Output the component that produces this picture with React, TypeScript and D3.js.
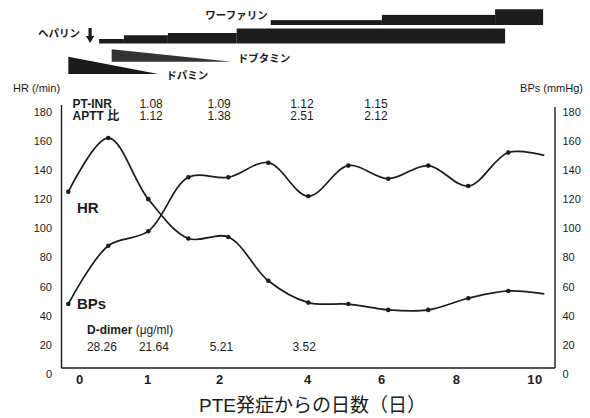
import * as d3 from 'd3';

const W = 590;
const H = 418;

// measurements are evenly spaced along the chart ("slot" units)
const sampleSlots = [0, 1, 2, 3, 4, 5, 6, 7, 8, 9, 10, 11, 11.9];
const hrValues = [125, 162, 120, 93, 94, 64, 49, 48, 44, 44, 52, 57, 55];
const bpsValues = [48, 88, 98, 135, 135, 145, 122, 143, 134, 143, 129, 152, 150];
const hasMarker = [true, true, true, true, true, true, true, true, true, true, true, true, false];

const yTicks = [0, 20, 40, 60, 80, 100, 120, 140, 160, 180];
const xTickLabels = ['0', '1', '2', '4', '6', '8', '10'];
const xTickSlots = [0.29, 1.99, 3.79, 5.99, 7.84, 9.71, 11.67];

const ptInr = ['1.08', '1.09', '1.12', '1.15'];
const apttRatio = ['1.12', '1.38', '2.51', '2.12'];
const labSlots = [2.07, 3.77, 5.84, 7.69];
const dDimer = ['28.26', '21.64', '5.21', '3.52'];
const dDimerSlots = [0.84, 2.14, 3.83, 5.9];

// drug schedule (relative dose levels)
const heparinFrom = [0.77, 1.39, 2.49, 4.21];
const heparinTo = [1.39, 2.49, 4.21, 10.92];
const heparinDose = [1.2, 2.2, 2.8, 4];
const warfarinFrom = [5.06, 7.84, 10.67];
const warfarinTo = [7.84, 10.67, 11.87];
const warfarinDose = [1.3, 2.7, 4.2];
const dopamineSlots = [0, 2.25];
const dopamineDose = [4.6, 0];
const dobutamineSlots = [1.085, 4.085];
const dobutamineDose = [3.3, 0];

const sans = "'Liberation Sans', Arial, 'Noto Sans CJK JP', sans-serif";
const jp = "'Noto Sans CJK JP', sans-serif";
const ink = '#1c1c1c';

const frame = { left: 61.5, right: 555, top: 105, bottom: 368 };

export default function App() {
  const x = d3.scaleLinear().domain([0, 12]).range([68.3, 548.3]);
  const y = d3.scaleLinear().domain([0, 180]).range([374, 111.7]);
  const doseH = d3.scaleLinear().domain([0, 4]).range([0, 15]);

  const line = d3
    .line<number>()
    .x((_, i) => x(sampleSlots[i]))
    .y(d => y(d))
    .curve(d3.curveCatmullRom.alpha(0.5));

  const wedge = (slots: number[], dose: number[], base: number) =>
    d3
      .area<number>()
      .x((_, i) => x(slots[i]))
      .y0(base)
      .y1((d) => base - doseH(d))(dose) || '';

  const heparinBase = 43.5;
  const warfarinBase = 25;
  const dobutamineBase = 61.7;
  const dopamineBase = 74;
  const arrowX = x(0.545);

  return (
    <svg
      width={W}
      height={H}
      style={{ position: 'fixed', left: 0, top: 0, background: '#fff' }}
      fontFamily={sans}
    >
      {/* drug schedule */}
      <g fill={ink}>
        {warfarinFrom.map((f, i) => (
          <rect
            key={'w' + i}
            x={x(f)}
            width={x(warfarinTo[i]) - x(f)}
            y={warfarinBase - doseH(warfarinDose[i])}
            height={doseH(warfarinDose[i])}
          />
        ))}
        {heparinFrom.map((f, i) => (
          <rect
            key={'h' + i}
            x={x(f)}
            width={x(heparinTo[i]) - x(f)}
            y={heparinBase - doseH(heparinDose[i])}
            height={doseH(heparinDose[i])}
          />
        ))}
        <path d={wedge(dobutamineSlots, dobutamineDose, dobutamineBase)} fill="#333" />
        <path d={wedge(dopamineSlots, dopamineDose, dopamineBase)} fill="#1a1a1a" />
        <path
          d={`M${arrowX - 1.6},28 h3.2 v8 h2.6 l-4.2,7 l-4.2,-7 h2.6 z`}
        />
      </g>
      <g fontFamily={jp} fontWeight={700} fontSize={10.5} fill={ink}>
        <text x={x(warfarinFrom[0]) - 3} y={19} textAnchor="end">ワーファリン</text>
        <text x={80} y={37} textAnchor="end">ヘパリン</text>
        <text x={x(dobutamineSlots[1]) + 6} y={62}>ドブタミン</text>
        <text x={x(dopamineSlots[1]) + 8} y={79}>ドパミン</text>
      </g>

      {/* frame */}
      <g stroke={ink} strokeWidth={1.4} fill="none">
        <line x1={frame.left} x2={frame.left} y1={frame.top} y2={frame.bottom} />
        <line x1={frame.right} x2={frame.right} y1={frame.top + 2} y2={frame.bottom} />
        <line x1={frame.left} x2={frame.right} y1={frame.bottom} y2={frame.bottom} />
      </g>

      {/* axis titles */}
      <g fontSize={11} fill={ink}>
        <text x={13} y={92}>HR (/min)</text>
        <text x={583} y={92} textAnchor="end">BPs (mmHg)</text>
      </g>

      {/* y tick labels */}
      <g fontSize={11} fill={ink}>
        {yTicks.map(t => (
          <g key={t}>
            <text x={52} y={y(t) + 4} textAnchor="end">{t}</text>
            <text x={562.5} y={y(t) + 4}>{t}</text>
          </g>
        ))}
      </g>

      {/* x tick labels */}
      <g fontSize={13} fontWeight={700} fill={ink} letterSpacing={0.6}>
        {xTickLabels.map((t, i) => (
          <text key={t} x={x(xTickSlots[i])} y={383.5} textAnchor="middle">{t}</text>
        ))}
      </g>
      <text x={199} y={412} fontSize={19} fill={ink}>PTE発症からの日数（日）</text>

      {/* lab rows */}
      <g fontSize={12} fill={ink}>
        <text x={72.5} y={107.8} fontWeight={700}>PT-INR</text>
        <text x={72.5} y={120.3} fontWeight={700}>APTT 比</text>
        {ptInr.map((v, i) => (
          <text key={'p' + i} x={x(labSlots[i])} y={107.8} textAnchor="middle">{v}</text>
        ))}
        {apttRatio.map((v, i) => (
          <text key={'a' + i} x={x(labSlots[i])} y={120.3} textAnchor="middle">{v}</text>
        ))}
        <text x={87} y={333.8}>
          <tspan fontWeight={700}>D-dimer</tspan>
          <tspan> (μg/ml)</tspan>
        </text>
        {dDimer.map((v, i) => (
          <text key={'d' + i} x={x(dDimerSlots[i])} y={351.3} textAnchor="middle">{v}</text>
        ))}
      </g>

      {/* series */}
      <g fill="none" stroke={ink} strokeWidth={1.7}>
        <path d={line(hrValues) || ''} />
        <path d={line(bpsValues) || ''} />
      </g>
      <g fill={ink}>
        {hrValues.map((v, i) =>
          hasMarker[i] ? <circle key={'hr' + i} cx={x(sampleSlots[i])} cy={y(v)} r={2.3} /> : null
        )}
        {bpsValues.map((v, i) =>
          hasMarker[i] ? <circle key={'bp' + i} cx={x(sampleSlots[i])} cy={y(v)} r={2.3} /> : null
        )}
      </g>
      <g fontSize={15} fontWeight={700} fill={ink}>
        <text x={77} y={213}>HR</text>
        <text x={77} y={308.5}>BPs</text>
      </g>
    </svg>
  );
}
